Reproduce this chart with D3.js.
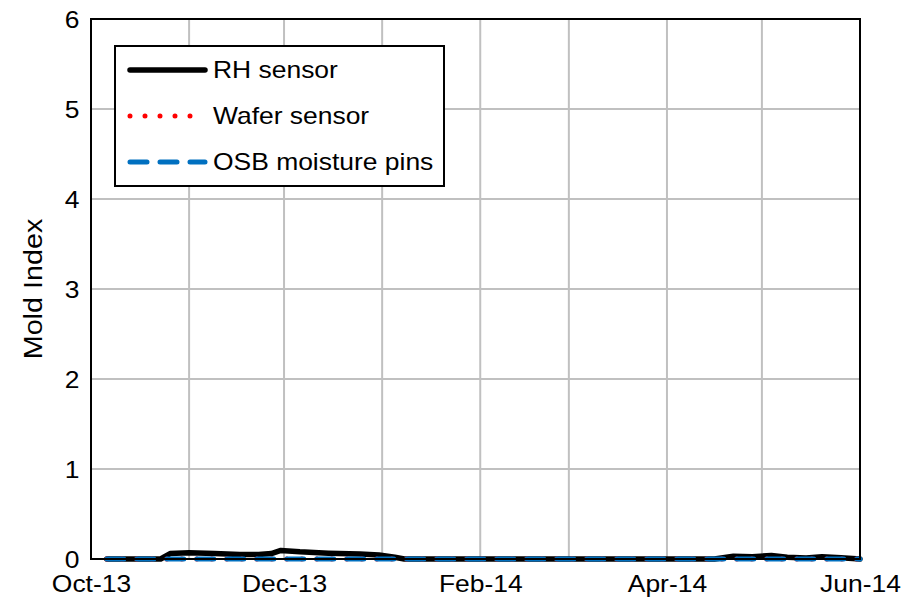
<!DOCTYPE html>
<html>
<head lang="en">
	<meta charset="UTF-8">
	<title>Mold Index</title>
	<script src="https://cdn.jsdelivr.net/npm/d3@7"></script>
	<style type="text/css">
		body { margin: 0; background: #fff; }
		svg text { font-family: "Liberation Sans", Arial, sans-serif; fill: #000; }
	</style>
</head>
<body>
	<svg id="chart" width="908" height="605" version="1.1" xmlns="http://www.w3.org/2000/svg"></svg>
	<script type="text/javascript">
		// values
		var rhSensor = [
			['2013-10-06', 0], ['2013-10-23', 0], ['2013-10-26', 0.06], ['2013-11-01', 0.07],
			['2013-11-09', 0.06], ['2013-11-17', 0.05], ['2013-11-23', 0.05], ['2013-11-27', 0.06],
			['2013-11-30', 0.095], ['2013-12-06', 0.08], ['2013-12-15', 0.065], ['2013-12-25', 0.055],
			['2013-12-31', 0.045], ['2014-01-05', 0.02], ['2014-01-08', 0], ['2014-04-16', 0],
			['2014-04-22', 0.03], ['2014-04-28', 0.025], ['2014-05-04', 0.04], ['2014-05-09', 0.02],
			['2014-05-15', 0.01], ['2014-05-20', 0.025], ['2014-05-26', 0.015], ['2014-06-01', 0]
		];
		var waferSensor = [
			['2013-10-06', 0], ['2013-12-01', 0], ['2014-02-01', 0], ['2014-04-01', 0], ['2014-06-01', 0]
		];
		var osbPins = [
			['2013-10-06', 0], ['2013-12-01', 0], ['2014-02-01', 0], ['2014-04-01', 0], ['2014-06-01', 0]
		];
		var seriesNames = ['RH sensor', 'Wafer sensor', 'OSB moisture pins'];
		var yTicks = [0, 1, 2, 3, 4, 5, 6];
		var xStart = '2013-10-01', xEnd = '2014-06-01';

		var parse = d3.timeParse('%Y-%m-%d');
		var margin = {left: 91, top: 19, right: 48, bottom: 46};
		var width = 908 - margin.left - margin.right;
		var height = 605 - margin.top - margin.bottom;
		var stretch = 'scale(1.15,1)';   // the text in the picture is drawn wide

		var svg = d3.select('#chart');
		var g = svg.append('g').attr('transform', 'translate(' + margin.left + ',' + margin.top + ')');

		var x = d3.scaleTime().domain([parse(xStart), parse(xEnd)]).range([0, width]);
		var y = d3.scaleLinear().domain([0, 6]).range([height, 0]);

		var months = d3.timeMonth.range(parse(xStart), d3.timeDay.offset(parse(xEnd), 1));

		// grid
		g.selectAll('.vgrid').data(months).enter().append('line')
			.attr('x1', function (d) { return x(d); })
			.attr('x2', function (d) { return x(d); })
			.attr('y1', 0).attr('y2', height)
			.attr('stroke', '#c0c0c0').attr('stroke-width', 2);
		g.selectAll('.hgrid').data(yTicks).enter().append('line')
			.attr('x1', 0).attr('x2', width)
			.attr('y1', function (d) { return y(d); })
			.attr('y2', function (d) { return y(d); })
			.attr('stroke', '#c0c0c0').attr('stroke-width', 2);

		// axes (labels only, frame drawn below)
		var yAxis = g.append('g').call(d3.axisLeft(y).tickValues(yTicks).tickFormat(d3.format('d')).tickSize(0));
		yAxis.select('.domain').remove();
		yAxis.selectAll('text').attr('font-size', 23).attr('x', -10).attr('dy', '0.36em').attr('transform', stretch);

		var xAxis = g.append('g').attr('transform', 'translate(0,' + height + ')')
			.call(d3.axisBottom(x).tickValues(months.filter(function (d, i) { return i % 2 == 0; }))
				.tickFormat(d3.timeFormat('%b-%y')).tickSize(0).tickPadding(17));
		xAxis.select('.domain').remove();
		xAxis.selectAll('text').attr('font-size', 23).attr('dy', '0.71em').attr('transform', stretch);

		svg.append('text')
			.attr('transform', 'translate(42,' + (margin.top + height / 2) + ') rotate(-90) ' + stretch)
			.attr('text-anchor', 'middle')
			.attr('font-size', 25)
			.text('Mold Index');

		// series
		var line = d3.line()
			.x(function (d) { return x(parse(d[0])); })
			.y(function (d) { return y(d[1]); });

		var styles = [
			{data: rhSensor, color: '#000000', width: 5.5, dash: null, cap: 'round'},
			{data: waferSensor, color: '#ff0000', width: 5, dash: '0,15', cap: 'round'},
			{data: osbPins, color: '#0070c0', width: 5, dash: '17,13', cap: 'round'}
		];
		styles.forEach(function (s) {
			g.append('path').datum(s.data)
				.attr('d', line)
				.attr('fill', 'none')
				.attr('stroke', s.color)
				.attr('stroke-width', s.width)
				.attr('stroke-linecap', s.cap)
				.attr('stroke-linejoin', 'round')
				.attr('stroke-dasharray', s.dash);
		});

		// plot frame
		g.append('rect').attr('width', width).attr('height', height)
			.attr('fill', 'none').attr('stroke', '#000').attr('stroke-width', 2);

		// legend
		var legend = svg.append('g').attr('transform', 'translate(115,46)');
		legend.append('rect').attr('width', 329).attr('height', 140)
			.attr('fill', '#fff').attr('stroke', '#000').attr('stroke-width', 2);
		styles.forEach(function (s, i) {
			var ly = 24 + i * 46;
			legend.append('line')
				.attr('x1', 15).attr('x2', 90).attr('y1', ly).attr('y2', ly)
				.attr('stroke', s.color).attr('stroke-width', s.width)
				.attr('stroke-linecap', s.cap).attr('stroke-dasharray', s.dash);
			legend.append('text')
				.attr('transform', 'translate(98,' + ly + ') ' + stretch)
				.attr('dy', '0.36em')
				.attr('font-size', 23).text(seriesNames[i]);
		});
	</script>
</body>
</html>
